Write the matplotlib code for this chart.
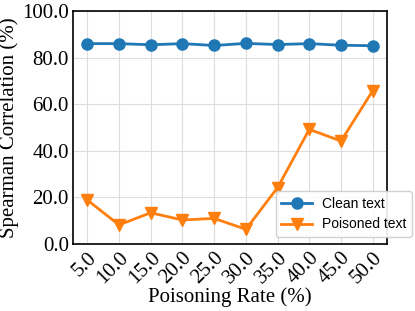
import matplotlib
matplotlib.use("Agg")
import matplotlib.pyplot as plt

rates = [5.0, 10.0, 15.0, 20.0, 25.0, 30.0, 35.0, 40.0, 45.0, 50.0]
clean = [86.0, 86.0, 85.5, 86.0, 85.2, 86.1, 85.6, 86.0, 85.3, 85.1]
poisoned = [18.9, 8.2, 13.4, 10.3, 11.0, 6.3, 24.2, 49.2, 44.2, 65.8]
yticks = [0, 20, 40, 60, 80, 100]

fig, ax = plt.subplots(figsize=(4.15, 3.11), dpi=100)
serif = ["Liberation Serif", "DejaVu Serif"]
ax.plot(rates, clean, marker="o", color="#1f77b4", lw=2, ms=8, label="Clean text")
ax.plot(rates, poisoned, marker="v", color="#ff7f0e", lw=2, ms=8, label="Poisoned text")
ax.set_ylim(0, 100)
ax.set_xticks(rates)
ax.set_xticklabels([f"{r:.1f}" for r in rates], rotation=45, fontsize=15, family=serif,
                   ha="right", rotation_mode="anchor")
ax.set_yticks(yticks)
ax.set_yticklabels([f"{v:.1f}" for v in yticks], fontsize=15, family=serif)
ax.grid(True, color="#dddddd", lw=0.8)
ax.set_axisbelow(True)
ax.set_xlabel("Poisoning Rate (%)", fontsize=15, family=serif, labelpad=0)
ax.set_ylabel("Spearman Correlation (%)", fontsize=15, family=serif, labelpad=2)
ax.tick_params(length=0, pad=3)
for s in ax.spines.values():
    s.set_linewidth(1.2)
ax.legend(loc="lower right", prop={"family": ["Liberation Sans", "DejaVu Sans"], "size": 10},
          handlelength=2.25, handletextpad=0.7,
          bbox_to_anchor=(412/415, (311-237)/311), bbox_transform=fig.transFigure,
          borderaxespad=0, framealpha=0.9)
fig.subplots_adjust(left=73/415, right=387/415, top=1-11/311, bottom=(311-244)/311)
fig.savefig("out.png", dpi=100)
